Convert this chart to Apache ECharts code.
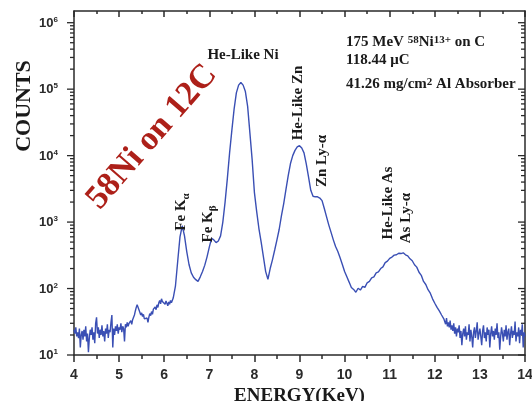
<!DOCTYPE html>
<html>
<head>
<meta charset="utf-8">
<script src="https://cdn.jsdelivr.net/npm/echarts@6/dist/echarts.min.js"></script>
<style>
  html, body { margin: 0; padding: 0; background: #fff; }
  #chart { width: 532px; height: 401px; }
</style>
</head>
<body>
<div id="chart"></div>
<script>
// X-ray spectrum: 175 MeV 58Ni13+ on carbon, counts vs photon energy (keV)

// Low-energy background, 4.00 - 6.20 keV
const baselineLow = [
  [4.00,24],[4.02,21],[4.04,26],[4.06,19],[4.08,22],[4.10,18],[4.12,25],[4.14,13],[4.16,20],[4.18,23],
  [4.20,17],[4.22,24],[4.24,19],[4.26,27],[4.28,16],[4.30,21],[4.32,11],[4.34,18],[4.36,24],[4.38,20],
  [4.40,26],[4.42,17],[4.44,22],[4.46,15],[4.48,30],[4.50,37],[4.52,21],[4.54,26],[4.56,18],[4.58,24],
  [4.60,20],[4.62,28],[4.64,19],[4.66,23],[4.68,16],[4.70,25],[4.72,21],[4.74,29],[4.76,18],[4.78,24],
  [4.80,22],[4.82,31],[4.84,40],[4.86,13],[4.88,25],[4.90,20],[4.92,27],[4.94,23],[4.96,29],[4.98,21],
  [5.00,26],[5.02,24],[5.04,30],[5.06,22],[5.08,27],[5.10,25],[5.12,16],[5.14,29],[5.16,26],[5.18,31],
  [5.20,27],[5.22,30],[5.24,28],[5.26,33],[5.28,29],[5.30,34],[5.32,36],[5.34,40],[5.36,46],[5.38,52],
  [5.40,57],[5.42,54],[5.44,48],[5.46,44],[5.48,40],[5.50,43],[5.52,38],[5.54,41],[5.56,35],[5.58,37],
  [5.60,33],[5.62,36],[5.64,31],[5.66,37],[5.68,42],[5.70,39],[5.72,45],[5.74,41],[5.76,49],[5.78,46],
  [5.80,53],[5.82,48],[5.84,57],[5.86,52],[5.88,61],[5.90,66],[5.92,59],[5.94,70],[5.96,64],[5.98,68],
  [6.00,62],[6.02,58],[6.04,65],[6.06,60],[6.08,55],[6.10,63],[6.12,58],[6.14,66],[6.16,61],[6.18,64],
  [6.20,72]
];

// Fe K lines, He-like Ni / Zn / As lines, 6.25 - 12.20 keV
const lineRegion = [
  [6.25,110],[6.30,260],[6.35,600],[6.40,880],[6.45,620],[6.50,360],[6.55,230],[6.60,172],[6.65,148],[6.70,136],
  [6.75,128],[6.80,150],[6.85,180],[6.90,225],[6.95,300],[7.00,420],[7.05,570],[7.10,540],[7.15,490],[7.20,520],
  [7.25,620],[7.30,1000],[7.35,2000],[7.40,4500],[7.45,11000],[7.50,24000],[7.55,50000],[7.60,88000],[7.65,115000],[7.70,126000],
  [7.75,115000],[7.80,92000],[7.85,55000],[7.90,22000],[7.95,8700],[8.00,2800],[8.05,1450],[8.10,800],[8.15,500],[8.20,300],
  [8.25,180],[8.30,138],[8.35,200],[8.40,270],[8.45,380],[8.50,540],[8.55,780],[8.60,1250],[8.65,1900],[8.70,3100],
  [8.75,5000],[8.80,7600],[8.85,10000],[8.90,12000],[8.95,13500],[9.00,14100],[9.05,13000],[9.10,11000],[9.15,7500],[9.20,4800],
  [9.25,3000],[9.30,2450],[9.35,2400],[9.40,2400],[9.45,2300],[9.50,2100],[9.55,1600],[9.60,1200],[9.65,900],[9.70,700],
  [9.75,540],[9.80,430],[9.85,360],[9.90,290],[9.95,230],[10.00,180],[10.05,150],[10.10,125],[10.15,104],[10.20,97],
  [10.25,88],[10.30,101],[10.35,95],[10.40,108],[10.45,104],[10.50,122],[10.55,128],[10.60,145],[10.65,150],[10.70,172],
  [10.75,178],[10.80,200],[10.85,212],[10.90,245],[10.95,258],[11.00,285],[11.05,298],[11.10,318],[11.15,322],[11.20,340],
  [11.25,336],[11.30,345],[11.35,322],[11.40,310],[11.45,280],[11.50,262],[11.55,228],[11.60,210],[11.65,176],[11.70,158],
  [11.75,128],[11.80,115],[11.85,96],[11.90,85],[11.95,70],[12.00,60],[12.05,52],[12.10,46],[12.15,40],[12.20,35]
];

// High-energy background, 12.22 - 14.00 keV
const baselineHigh = [
  [12.22,34],[12.24,29],[12.26,36],[12.28,27],[12.30,31],[12.32,26],[12.34,33],[12.36,24],[12.38,28],[12.40,23],
  [12.42,30],[12.44,21],[12.46,26],[12.48,19],[12.50,25],[12.52,22],[12.54,28],[12.56,18],[12.58,23],[12.60,14],
  [12.62,21],[12.64,25],[12.66,19],[12.68,27],[12.70,17],[12.72,22],[12.74,20],[12.76,29],[12.78,16],[12.80,24],
  [12.82,19],[12.84,13],[12.86,22],[12.88,26],[12.90,18],[12.92,23],[12.94,31],[12.96,17],[12.98,21],[13.00,25],
  [13.02,19],[13.04,14],[13.06,23],[13.08,28],[13.10,18],[13.12,22],[13.14,16],[13.16,26],[13.18,20],[13.20,24],
  [13.22,13],[13.24,21],[13.26,27],[13.28,19],[13.30,23],[13.32,17],[13.34,25],[13.36,20],[13.38,30],[13.40,18],
  [13.42,22],[13.44,12],[13.46,19],[13.48,26],[13.50,21],[13.52,16],[13.54,24],[13.56,19],[13.58,28],[13.60,17],
  [13.62,22],[13.64,25],[13.66,14],[13.68,21],[13.70,27],[13.72,18],[13.74,23],[13.76,20],[13.78,32],[13.80,16],
  [13.82,22],[13.84,19],[13.86,26],[13.88,15],[13.90,24],[13.92,20],[13.94,29],[13.96,13],[13.98,22],[14.00,19]
];

// Axis ranges and ticks
const energyRange = [4, 14];
const countRange = [10, 1.5e6];
const decadeTicks = [10, 100, 1000, 10000, 100000, 1000000];
const subDecadeSteps = [2, 3, 4, 5, 6, 7, 8, 9];

// Tick marks for the log count axis: [energy at frame edge, count, tick length in px]
const countTickMarks = [];
decadeTicks.forEach(function (d) {
  countTickMarks.push([energyRange[0], d, 7]);
  subDecadeSteps.forEach(function (k) {
    if (d * k < countRange[1]) countTickMarks.push([energyRange[0], d * k, 4]);
  });
});

const INK = '#2a2a2a';
const LINE_BLUE = '#3a4fb4';
const SERIF = '"Liberation Serif", "Times New Roman", serif';
const SANS = '"Liberation Sans", Arial, sans-serif';

const spectrum = baselineLow.concat(lineRegion, baselineHigh);

function xAxisCfg(onTop) {
  return {
    type: 'value',
    min: energyRange[0],
    max: energyRange[1],
    interval: 1,
    position: onTop ? 'top' : 'bottom',
    axisLine: { show: true, onZero: false, lineStyle: { color: INK, width: 1.5 } },
    axisTick: { show: true, inside: onTop, length: onTop ? 6 : 7, lineStyle: { color: INK, width: 1.5 } },
    minorTick: { show: true, splitNumber: 2, length: onTop ? 3 : 4, lineStyle: { color: INK, width: 1.5 } },
    splitLine: { show: false },
    minorSplitLine: { show: false },
    axisLabel: onTop ? { show: false } : {
      margin: 13, fontFamily: SANS, fontWeight: 'bold', fontSize: 14, color: INK
    },
    name: onTop ? '' : 'ENERGY(KeV)',
    nameLocation: 'middle',
    nameGap: 30,
    nameTextStyle: { fontFamily: SERIF, fontWeight: 'bold', fontSize: 19, color: '#1a1a1a' }
  };
}

function countAxisCfg(side) {
  return {
    type: 'log',
    logBase: 10,
    min: countRange[0],
    max: countRange[1],
    position: side,
    axisLine: { show: true, onZero: false, lineStyle: { color: INK, width: 1.5 } },
    axisTick: { show: false },
    minorTick: { show: false },
    splitLine: { show: false },
    axisLabel: side !== 'left' ? { show: false } : {
      margin: 16,
      formatter: function (v) {
        const e = Math.log10(v);
        if (Math.abs(e - Math.round(e)) > 1e-6) return '';
        return '{b|10}{s|' + Math.round(e) + '}';
      },
      rich: {
        b: { fontFamily: SANS, fontWeight: 'bold', fontSize: 13, color: INK, verticalAlign: 'bottom' },
        s: { fontFamily: SANS, fontWeight: 'bold', fontSize: 8, color: INK, verticalAlign: 'top', padding: [0, 0, 6, 0] }
      }
    }
  };
}

function note(text, x, y, opts) {
  opts = opts || {};
  const size = opts.size || 15;
  return {
    type: 'text',
    x: x, y: y,
    rotation: opts.rotation || 0,
    z: 10,
    style: {
      text: text,
      font: 'bold ' + size + 'px ' + SERIF,
      fill: opts.color || '#1a1a1a',
      align: opts.align || 'center',
      verticalAlign: 'middle',
      rich: opts.rich
    }
  };
}

const V = Math.PI / 2;
const scriptRich = function (size) {
  return {
    n: { font: 'bold ' + size + 'px ' + SERIF, fill: '#1a1a1a', verticalAlign: 'bottom' },
    sup: { font: 'bold ' + Math.round(size * 0.75) + 'px ' + SERIF, fill: '#1a1a1a', verticalAlign: 'top' },
    sub: { font: 'bold ' + Math.round(size * 0.7) + 'px ' + SERIF, fill: '#1a1a1a', verticalAlign: 'bottom', padding: [0, 0, -3, 0] }
  };
};

const chart = echarts.init(document.getElementById('chart'), null, { renderer: 'canvas' });
chart.setOption({
  backgroundColor: '#ffffff',
  animation: false,
  grid: { left: 74, right: 7, top: 11, bottom: 46, outerBoundsMode: 'none', containLabel: false },
  xAxis: [xAxisCfg(false), xAxisCfg(true)],
  yAxis: [countAxisCfg('left'), countAxisCfg('right')],
  series: [
    {
      type: 'line',
      xAxisIndex: 0,
      yAxisIndex: 0,
      data: spectrum,
      showSymbol: false,
      symbol: 'none',
      smooth: false,
      lineStyle: { color: LINE_BLUE, width: 1.4 },
      itemStyle: { color: LINE_BLUE }
    },
    {
      // Decade and sub-decade ticks on the left (outward) and right (inward) frame
      type: 'custom',
      xAxisIndex: 0,
      yAxisIndex: 0,
      silent: true,
      clip: false,
      z: 3,
      encode: { x: 0, y: 1 },
      data: countTickMarks,
      renderItem: function (params, api) {
        const count = api.value(1);
        const len = api.value(2);
        const pl = api.coord([energyRange[0], count]);
        const pr = api.coord([energyRange[1], count]);
        const st = { stroke: INK, lineWidth: 1.3 };
        return {
          type: 'group',
          children: [
            { type: 'line', shape: { x1: pl[0] - len, y1: pl[1], x2: pl[0], y2: pl[1] }, style: st },
            { type: 'line', shape: { x1: pr[0] - len, y1: pr[1], x2: pr[0], y2: pr[1] }, style: st }
          ]
        };
      }
    }
  ],
  graphic: [
    // Axis title and reaction label
    note('COUNTS', 24, 106, { rotation: V, size: 22 }),
    note('58Ni on 12C', 152, 137, { rotation: 49 * Math.PI / 180, size: 34, color: '#ad2019' }),
    // Run conditions
    note('{n|175 MeV }{sup|58}{n|Ni}{sup|13+}{n| on C}', 346, 42, { align: 'left', size: 15, rich: scriptRich(15) }),
    note('118.44 μC', 346, 60, { align: 'left', size: 15 }),
    note('{n|41.26 mg/cm}{sup|2}{n| Al Absorber}', 346, 84, { align: 'left', size: 15, rich: scriptRich(15) }),
    // Line identifications
    note('He-Like Ni', 243, 55, { size: 15 }),
    note('He-Like Zn', 298, 103, { rotation: V, size: 15 }),
    note('Zn Ly-α', 322, 161, { rotation: V, size: 15 }),
    note('He-Like As', 388, 203, { rotation: V, size: 15 }),
    note('As Ly-α', 406, 218, { rotation: V, size: 15 }),
    note('{n|Fe K}{sub|α}', 181, 212, { rotation: V, size: 15, rich: scriptRich(15) }),
    note('{n|Fe K}{sub|β}', 208, 224, { rotation: V, size: 15, rich: scriptRich(15) })
  ]
});
</script>
</body>
</html>
